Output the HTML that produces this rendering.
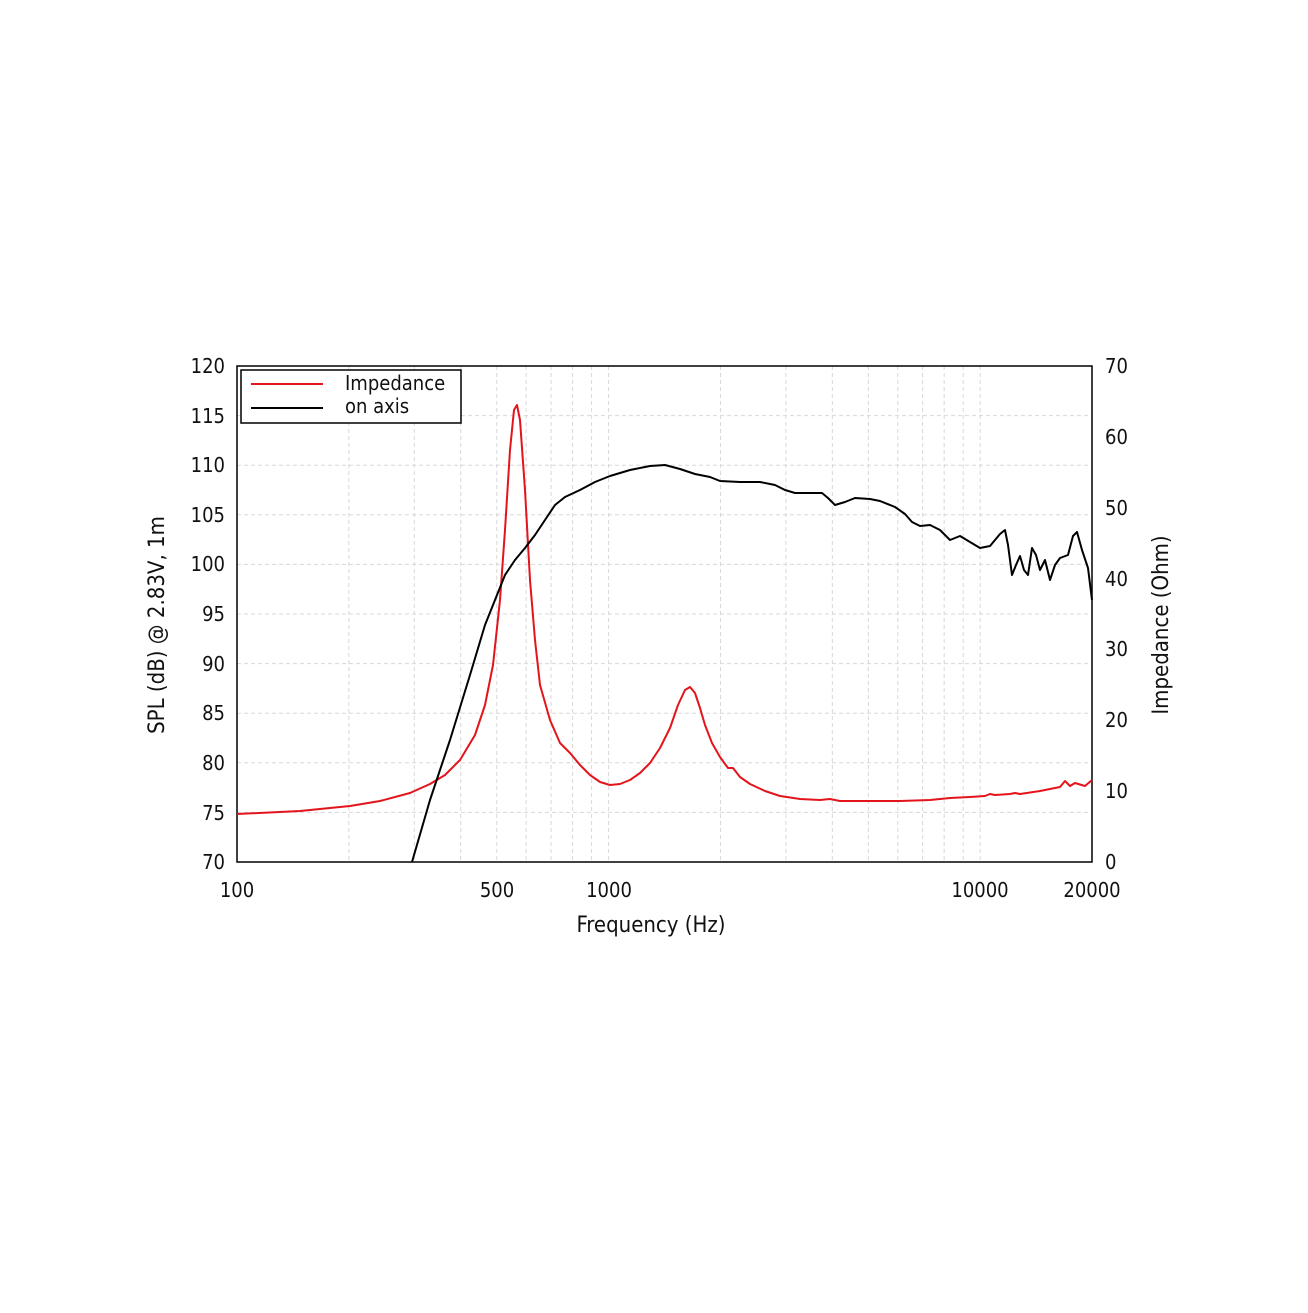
<!DOCTYPE html>
<html><head><meta charset="utf-8"><style>
html,body{margin:0;padding:0;background:#fff;}
svg text{font-family:"DejaVu Sans Condensed","Liberation Sans",sans-serif;fill:#111;}
</style></head><body>
<svg width="1308" height="1308" viewBox="0 0 1308 1308" xmlns="http://www.w3.org/2000/svg">
<rect width="1308" height="1308" fill="#fff"/>
<g stroke="#d8d8d8" stroke-width="1" stroke-dasharray="4,3" id="grid"></g>
<script>
(function(){
var g=document.getElementById('grid'),ns="http://www.w3.org/2000/svg";
function L(x1,y1,x2,y2){var l=document.createElementNS(ns,'line');l.setAttribute('x1',x1);l.setAttribute('y1',y1);l.setAttribute('x2',x2);l.setAttribute('y2',y2);g.appendChild(l);}
var fs=[200,300,400,500,600,700,800,900,1000,2000,3000,4000,5000,6000,7000,8000,9000,10000];
fs.forEach(function(f){var x=237+371.6*Math.log10(f/100);L(x,366,x,862);});
for(var v=75;v<120;v+=5){var y=862-(v-70)*9.92;L(237,y,1092,y);}
})();
</script>
<rect x="237" y="366" width="855" height="496" fill="none" stroke="#000" stroke-width="1.5"/>
<g font-size="20" text-anchor="end">
<text x="225" y="373">120</text><text x="225" y="423">115</text><text x="225" y="472">110</text>
<text x="225" y="522">105</text><text x="225" y="571">100</text><text x="225" y="621">95</text>
<text x="225" y="671">90</text><text x="225" y="720">85</text><text x="225" y="770">80</text>
<text x="225" y="820">75</text><text x="225" y="869">70</text>
</g>
<g font-size="20" text-anchor="start">
<text x="1105" y="373">70</text><text x="1105" y="444">60</text><text x="1105" y="515">50</text>
<text x="1105" y="586">40</text><text x="1105" y="656">30</text><text x="1105" y="727">20</text>
<text x="1105" y="798">10</text><text x="1105" y="869">0</text>
</g>
<g font-size="20" text-anchor="middle">
<text x="237" y="897">100</text><text x="497" y="897">500</text><text x="609" y="897">1000</text>
<text x="980" y="897">10000</text><text x="1092" y="897">20000</text>
<text x="651" y="932" font-size="22">Frequency (Hz)</text>
</g>
<text transform="translate(164,625) rotate(-90)" font-size="22" text-anchor="middle">SPL (dB) @ 2.83V, 1m</text>
<text transform="translate(1168,625) rotate(-90)" font-size="22" text-anchor="middle">Impedance (Ohm)</text>
<polyline fill="none" stroke="#e3141b" stroke-width="2" stroke-linejoin="round" points="237,814 300,811 350,806 380,801 410,793 430,784 445,775 460,760 475,735 485,705 493,665 500,600 505,530 510,450 514,410 517,405 520,420 525,490 530,580 535,640 540,685 550,720 560,743 570,753 580,765 590,775 600,782 610,785 620,784 630,780 640,773 650,763 660,748 670,728 678,705 685,690 690,687 695,693 700,708 705,725 712,743 720,757 728,768 733,768 740,777 750,784 765,791 780,796 800,799 820,800 830,799 840,801 870,801 900,801 930,800 950,798 970,797 985,796 990,794 995,795 1010,794 1015,793 1020,794 1040,791 1050,789 1060,787 1065,781 1070,786 1075,783 1085,786 1092,780"/>
<polyline fill="none" stroke="#000" stroke-width="2" stroke-linejoin="round" points="412,862 430,800 450,740 470,675 485,625 495,600 505,575 515,560 525,548 535,535 545,520 555,505 565,497 580,490 595,482 610,476 630,470 650,466 665,465 680,469 695,474 710,477 720,481 740,482 760,482 775,485 785,490 795,493 810,493 822,493 828,498 835,505 845,502 855,498 870,499 880,501 895,507 905,514 912,522 920,526 930,525 940,530 950,540 960,536 970,542 980,548 990,546 1000,534 1005,530 1008,545 1012,575 1016,565 1020,556 1024,570 1028,575 1032,548 1036,555 1040,570 1045,560 1050,580 1055,565 1060,558 1068,555 1073,536 1077,532 1082,550 1088,568 1092,600"/>
<rect x="241" y="370" width="220" height="53" fill="#fff" stroke="#000" stroke-width="1.5"/>
<line x1="251" y1="384" x2="323" y2="384" stroke="#e3141b" stroke-width="2"/>
<line x1="251" y1="408" x2="323" y2="408" stroke="#000" stroke-width="2"/>
<text x="345" y="390" font-size="20">Impedance</text>
<text x="345" y="413" font-size="20">on axis</text>
</svg>
</body></html>
